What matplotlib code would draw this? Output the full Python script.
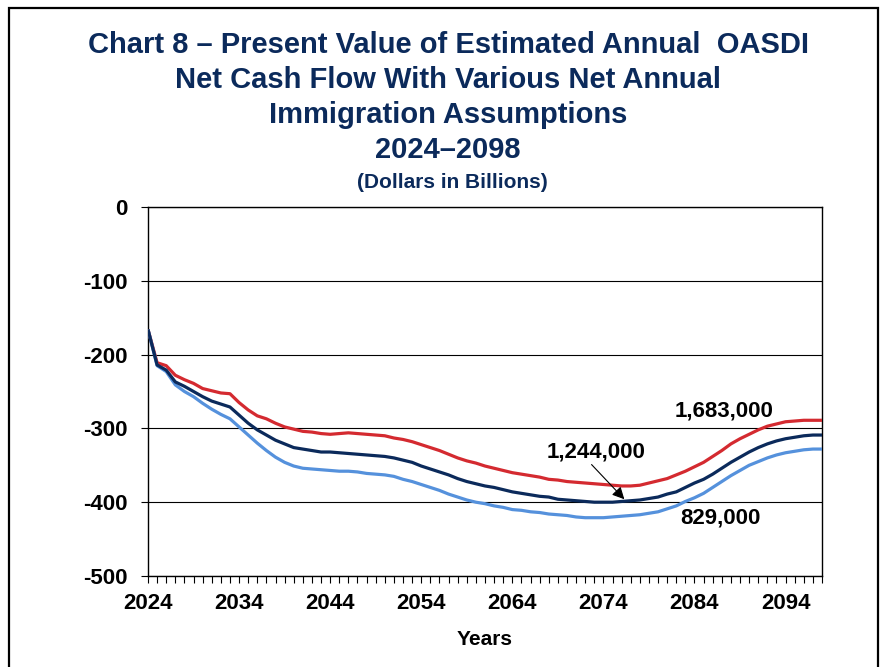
import numpy as np
import matplotlib.pyplot as plt
from matplotlib.patches import Rectangle
from matplotlib.ticker import MultipleLocator

plt.rcParams['font.family'] = ['Liberation Sans', 'DejaVu Sans']
plt.rcParams['font.weight'] = 'bold'
plt.rcParams['axes.unicode_minus'] = False

# DATA (present value, billions of dollars)
years = list(range(2024, 2099))

high_1683 = [-166, -211, -215, -228, -234, -239, -246, -249, -252, -253,
             -265, -275, -283, -287, -293, -298, -301, -304, -305, -307,
             -308, -307, -306, -307, -308, -309, -310, -313, -315, -318,
             -322, -326, -330, -335, -340, -344, -347, -351, -354, -357,
             -360, -362, -364, -366, -369, -370, -372, -373, -374, -375,
             -376, -377, -378, -378, -377, -374, -371, -368, -363, -358,
             -352, -346, -338, -330, -321, -314, -308, -302, -297, -294,
             -291, -290, -289, -289, -289]

mid_1244 = [-166, -214, -221, -237, -243, -250, -257, -263, -267, -271,
            -282, -293, -302, -309, -316, -321, -326, -328, -330, -332,
            -332, -333, -334, -335, -336, -337, -338, -340, -343, -346,
            -351, -355, -359, -363, -368, -372, -375, -378, -380, -383,
            -386, -388, -390, -392, -393, -396, -397, -398, -399, -400,
            -400, -400, -399, -398, -397, -395, -393, -389, -386, -380,
            -374, -369, -362, -354, -346, -339, -332, -326, -321, -317,
            -314, -312, -310, -309, -309]

low_829 = [-166, -215, -223, -241, -250, -257, -266, -274, -281, -287,
           -298, -309, -320, -330, -339, -346, -351, -354, -355, -356,
           -357, -358, -358, -359, -361, -362, -363, -365, -369, -372,
           -376, -380, -384, -389, -393, -397, -400, -402, -405, -407,
           -410, -411, -413, -414, -416, -417, -418, -420, -421, -421,
           -421, -420, -419, -418, -417, -415, -413, -409, -405, -399,
           -394, -388, -380, -372, -364, -357, -350, -345, -340, -336,
           -333, -331, -329, -328, -328]

xticks = list(range(2024, 2098, 10))
yticks = [0, -100, -200, -300, -400, -500]

navy = '#0b2a5b'
red = '#d42a30'
light = '#5591dc'

fig = plt.figure(figsize=(8.84, 6.67), dpi=100)
ax = fig.add_axes([148/884, 1-576/667, 674/884, 369/667])

ax.plot(years, high_1683, color=red, lw=2.3, solid_capstyle='butt', zorder=3)
ax.plot(years, low_829, color=light, lw=2.3, solid_capstyle='butt', zorder=3)
ax.plot(years, mid_1244, color=navy, lw=2.3, solid_capstyle='butt', zorder=4)

ax.set_xlim(2024, 2098)
ax.set_ylim(-500, 0)
ax.set_xticks(xticks)
ax.xaxis.set_minor_locator(MultipleLocator(1))
ax.set_yticks(yticks)
ax.tick_params(axis='both', which='both', direction='out', length=5, width=0.8, labelsize=16)
ax.tick_params(axis='x', which='major', pad=7)
ax.tick_params(axis='y', which='major', pad=10)
ax.yaxis.grid(True, color='black', lw=0.8)
ax.set_axisbelow(True)
for s in ax.spines.values():
    s.set_linewidth(1.0)
    s.set_color('black')

ax.set_xlabel('Years', fontsize=15, fontweight='bold', labelpad=12)

# series labels
ax.text(2087.3, -276, '1,683,000', fontsize=16, fontweight='bold', ha='center', va='center')
ax.text(2086.8, -421, '829,000', fontsize=16, fontweight='bold', ha='center', va='center')
ax.text(2073.2, -332, '1,244,000', fontsize=16, fontweight='bold', ha='center', va='center')
ax.annotate('', xy=(2076.3, -396), xytext=(2072.7, -349),
            arrowprops=dict(arrowstyle='-|>', color='black', lw=0.8,
                            mutation_scale=18, shrinkA=0, shrinkB=0))

# title
title_lines = ['Chart 8 \u2013 Present Value of Estimated Annual  OASDI',
               'Net Cash Flow With Various Net Annual',
               'Immigration Assumptions',
               '2024\u20132098']
for i, line in enumerate(title_lines):
    fig.text(448/884, 1 - (45 + 35*i)/667, line, fontsize=21, fontweight='bold',
             color=navy, ha='center', va='center')
fig.text(452/884, 1 - 183/667, '(Dollars in Billions)', fontsize=15,
         fontweight='bold', color=navy, ha='center', va='center')

# outer border
fig.patches.append(Rectangle((9/884, -0.05), 869/884, 1.05 - 8/667, transform=fig.transFigure,
                             fill=False, edgecolor='black', lw=1.6))

fig.savefig('out.png', dpi=100)
